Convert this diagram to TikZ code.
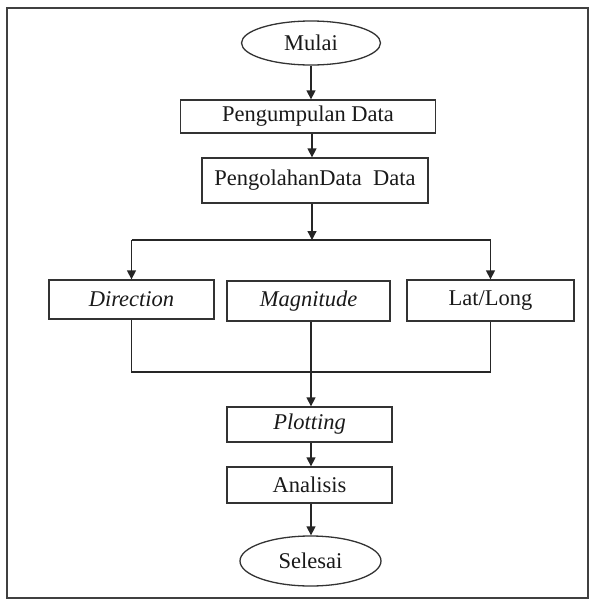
\documentclass[tikz,border=0pt]{standalone}
\usepackage{fontspec}
\setmainfont{Liberation Serif}
\usetikzlibrary{arrows.meta,shapes.geometric}

\begin{document}
\begin{tikzpicture}[x=1pt,y=1pt]
        \tikzstyle{every node}+=[inner sep=0pt, font=\fontsize{22.5}{26}\selectfont, text=black!90]
        \tikzstyle{proses}=[draw=black!80, line width=1.3pt, rectangle, minimum height=36pt]
        \tikzstyle{terminal}=[draw=black!80, line width=1.3pt, ellipse]
        \tikzstyle{panah}=[draw=black!85, line width=1.3pt, -{Triangle[width=9pt,length=9pt]}]
        \tikzstyle{garis}=[draw=black!85, line width=1.3pt]
        \useasboundingbox (0,0) rectangle (594,-600);
        \draw [black!75, line width=2.4pt] (7,-8) rectangle (588,-598);
        % simpul
        \node [terminal, minimum width=139pt, minimum height=44pt] (mulai) at (311,-43) {Mulai};
        \node [proses, minimum width=255pt, minimum height=33pt] (kumpul) at (308,-116.5) {Pengumpulan Data};
        \node [proses, minimum width=226pt, minimum height=45pt] (olah) at (315,-180.5) {PengolahanData\ \ Data};
        \node [proses, minimum width=165pt, minimum height=39pt] (arah) at (131.5,-299.5) {\textit{Direction}};
        \node [proses, minimum width=163pt, minimum height=40pt] (besar) at (308.5,-301) {\textit{Magnitude}};
        \node [proses, minimum width=167pt, minimum height=41pt] (latlong) at (490.5,-300.5) {Lat/Long};
        \node [proses, minimum width=165pt, minimum height=35pt] (plot) at (309.5,-424.5) {\textit{Plotting}};
        \node [proses, minimum width=165pt, minimum height=36pt] (analisis) at (309.5,-485) {Analisis};
        \node [terminal, minimum width=141pt, minimum height=50pt] (selesai) at (310.5,-561) {Selesai};
        \coordinate (cabang) at (312,-240);
        \coordinate (gabung) at (311,-372);
        % panah
        \draw [panah] (mulai.south) -- (mulai.south |- kumpul.north);
        \draw [panah] (cabang |- kumpul.south) -- (cabang |- olah.north);
        \draw [panah] (cabang |- olah.south) -- (cabang);
        \draw [garis] (arah.north |- cabang) -- (latlong.north |- cabang);
        \draw [panah] (arah.north |- cabang) -- (arah.north);
        \draw [panah] (latlong.north |- cabang) -- (latlong.north);
        \draw [garis] (arah.south) -- (arah.south |- gabung) -- (latlong.south |- gabung) -- (latlong.south);
        \draw [panah] (gabung |- besar.south) -- (gabung |- plot.north);
        \draw [panah] (gabung |- plot.south) -- (gabung |- analisis.north);
        \draw [panah] (gabung |- analisis.south) -- (gabung |- selesai.north);
    \end{tikzpicture}
\end{document}
